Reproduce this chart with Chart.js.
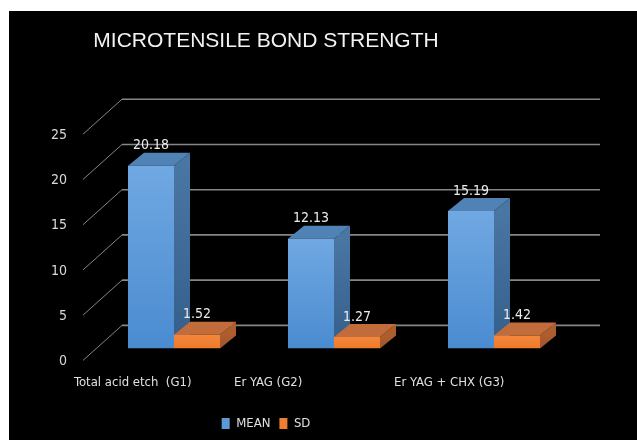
<!DOCTYPE html>
<html>
<head>
<meta charset="utf-8">
<script src="https://cdn.jsdelivr.net/npm/chart.js@4.4.0/dist/chart.umd.min.js"></script>
<style>
    html, body { margin: 0; padding: 0; background: #fff; width: 637px; height: 443px; overflow: hidden; }
    #frame { position: absolute; left: 9px; top: 11px; width: 628px; height: 429px; background: #000; overflow: hidden; }
    #box { position: absolute; left: -114px; top: 0; width: 742px; height: 429px; }
</style>
</head>
<body>
<div id="frame"><div id="box"><canvas id="chart"></canvas></div></div>
<script>
// Dados
const groups = ['Total acid etch  (G1)', 'Er YAG (G2)', 'Er YAG + CHX (G3)'];
const seriesNames = ['MEAN', 'SD'];
const meanValues = [20.18, 12.13, 15.19];
const sdValues = [1.52, 1.27, 1.42];
const yTicks = [0, 5, 10, 15, 20, 25];

const NARROW = "'Liberation Sans Narrow', 'DejaVu Sans Condensed', 'Liberation Sans', sans-serif";
Chart.defaults.font.family = NARROW;

// profundidade 3D (px)
const DX = 16, DY = 13;          // espessura da barra
const WALL_X = 28, WALL_Y = 23;  // plano da barra -> parede do fundo
const FRONT_X = 11, FRONT_Y = 12; // plano da barra -> borda frontal do piso

const faceColors = [
    { front: ['#70a8e2', '#4a8bd0'], top: '#5082b5', side: ['#4a76a4', '#355e8a'], legend: '#5b9bd5' },
    { front: ['#f3873a', '#ee7a2b'], top: '#c26b3b', side: ['#ad5d2e', '#a0552a'], legend: '#ed7d31' }
];

const frontFill = (colors) => (c) => {
    const chart = c.chart;
    if (!chart.chartArea || c.raw == null) return colors[1];
    const y = chart.scales.y;
    const g = chart.ctx.createLinearGradient(0, y.getPixelForValue(c.raw), 0, y.getPixelForValue(0));
    g.addColorStop(0, colors[0]);
    g.addColorStop(1, colors[1]);
    return g;
};

const fillPoly = (ctx, pts) => {
    ctx.beginPath();
    pts.forEach(([x, y], i) => i ? ctx.lineTo(x, y) : ctx.moveTo(x, y));
    ctx.closePath();
    ctx.fill();
};

const threeD = {
    id: 'threeD',
    beforeDatasetsDraw(chart) {
        const { ctx, chartArea: a, scales: { y } } = chart;
        ctx.save();
        // grade: parede do fundo + parede lateral
        y.ticks.forEach(t => {
            const py = y.getPixelForValue(t.value);
            ctx.strokeStyle = '#868686';
            ctx.lineWidth = 1.6;
            ctx.beginPath();
            ctx.moveTo(a.left + WALL_X, py - WALL_Y);
            ctx.lineTo(a.right + WALL_X - 2, py - WALL_Y);
            ctx.stroke();
            ctx.lineWidth = 1;
            ctx.beginPath();
            ctx.moveTo(a.left + WALL_X, py - WALL_Y);
            ctx.lineTo(a.left - FRONT_X, py + FRONT_Y);
            ctx.stroke();
        });
        // faces lateral e superior
        chart.data.datasets.forEach((ds, di) => {
            const fc = faceColors[di];
            chart.getDatasetMeta(di).data.forEach(bar => {
                const { x, y: top, base, width } = bar.getProps(['x', 'y', 'base', 'width'], true);
                const l = x - width / 2, r = x + width / 2;
                const g = ctx.createLinearGradient(0, top, 0, base);
                g.addColorStop(0, fc.side[0]);
                g.addColorStop(1, fc.side[1]);
                ctx.fillStyle = g;
                fillPoly(ctx, [[r, top], [r + DX, top - DY], [r + DX, base - DY], [r, base]]);
                ctx.fillStyle = fc.top;
                fillPoly(ctx, [[l, top], [r, top], [r + DX, top - DY], [l + DX, top - DY]]);
            });
        });
        ctx.restore();
    },
    afterDatasetsDraw(chart) {
        const { ctx } = chart;
        ctx.save();
        ctx.font = '14px ' + NARROW;
        ctx.fillStyle = '#ebebeb';
        ctx.textAlign = 'center';
        ctx.textBaseline = 'middle';
        chart.data.datasets.forEach((ds, di) => {
            chart.getDatasetMeta(di).data.forEach((bar, i) => {
                const { x, y } = bar.getProps(['x', 'y'], true);
                ctx.fillText(ds.data[i].toFixed(2), x, y - 20);
            });
        });
        ctx.restore();
    }
};

new Chart(document.getElementById('chart'), {
    type: 'bar',
    data: {
        labels: groups,
        datasets: [
            { label: seriesNames[0], data: meanValues, backgroundColor: frontFill(faceColors[0].front) },
            { label: seriesNames[1], data: sdValues, backgroundColor: frontFill(faceColors[1].front) }
        ]
    },
    options: {
        responsive: true,
        maintainAspectRatio: false,
        animation: false,
        layout: { padding: { left: 63, right: 63, top: 0, bottom: 0 } },
        datasets: { bar: { categoryPercentage: 0.575, barPercentage: 1, borderWidth: 0 } },
        scales: {
            x: {
                grid: { display: false, drawTicks: false },
                border: { display: false },
                ticks: { color: '#e0e0e0', font: { size: 13 }, align: 'start', labelOffset: -100, padding: 26, autoSkip: false, maxRotation: 0 },
                afterFit: s => { s.paddingLeft = 0; s.paddingRight = 0; s.height -= 8; }
            },
            y: {
                min: 0,
                max: yTicks[yTicks.length - 1],
                afterBuildTicks: s => { s.ticks = yTicks.map(v => ({ value: v })); },
                grid: { display: false, drawTicks: false },
                border: { display: false },
                ticks: { color: '#d9d9d9', font: { size: 14 }, labelOffset: 13, padding: 27 },
                afterFit: s => { s.width = 136; s.paddingTop = 0; s.paddingBottom = 0; }
            }
        },
        plugins: {
            title: {
                display: true,
                text: 'MICROTENSILE BOND STRENGTH',
                color: '#f2f2f2',
                font: { family: "'Liberation Sans', sans-serif", size: 21, weight: 'normal' },
                padding: { top: 18, bottom: 68 }
            },
            legend: {
                position: 'bottom',
                labels: {
                    color: '#e0e0e0',
                    font: { size: 13 },
                    boxWidth: 8,
                    boxHeight: 11,
                    padding: 9,
                    generateLabels: chart => Chart.defaults.plugins.legend.labels.generateLabels(chart)
                        .map((l, i) => ({ ...l, fillStyle: faceColors[i].legend, strokeStyle: faceColors[i].legend, lineWidth: 0 }))
                }
            },
            tooltip: { enabled: false }
        }
    },
    plugins: [threeD]
});
</script>
</body>
</html>
